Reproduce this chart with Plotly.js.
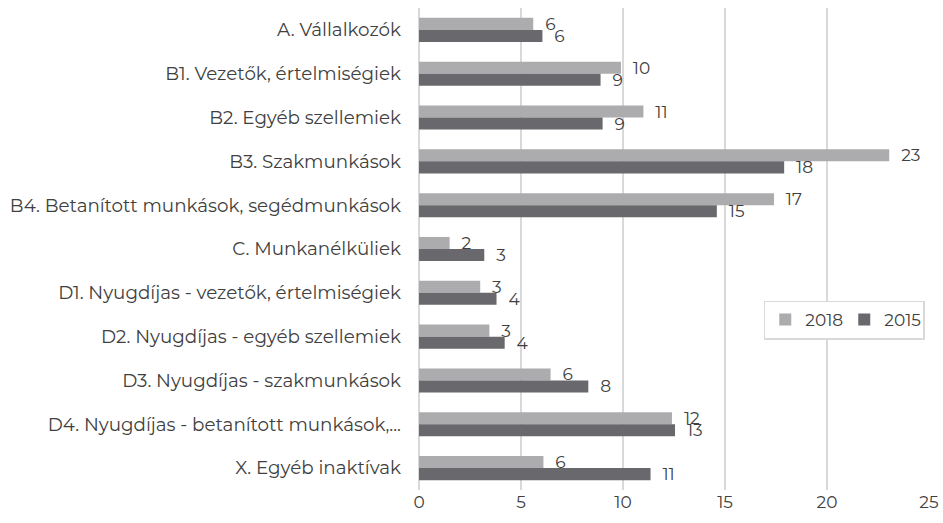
<!DOCTYPE html>
<html>
<head>
<meta charset="utf-8">
<script src="https://cdn.plot.ly/plotly-3.0.1.min.js"></script>
<style>html,body{margin:0;padding:0;background:#fff;}#chart{width:943px;height:523px;}</style>
</head>
<body>
<div id="chart"></div>
<script>
const categories = [
  "A. Vállalkozók",
  "B1. Vezetők, értelmiségiek",
  "B2. Egyéb szellemiek",
  "B3. Szakmunkások",
  "B4. Betanított munkások, segédmunkások",
  "C. Munkanélküliek",
  "D1. Nyugdíjas - vezetők, értelmiségiek",
  "D2. Nyugdíjas - egyéb szellemiek",
  "D3. Nyugdíjas - szakmunkások",
  "D4. Nyugdíjas - betanított munkások,...",
  "X. Egyéb inaktívak"
];
const values2018 = [5.6, 9.9, 11.0, 23.05, 17.4, 1.5, 3.0, 3.45, 6.45, 12.4, 6.1];
const values2015 = [6.05, 8.9, 9.0, 17.9, 14.6, 3.2, 3.8, 4.2, 8.3, 12.55, 11.35];
const xTicks = [0, 5, 10, 15, 20, 25];

const fontFam = "Montserrat, 'DejaVu Sans', sans-serif";
const txtColor = "#404040";
const labelTpl = "\u00a0\u00a0%{x:.0f}";

const traces = [
  {type: "bar", orientation: "h", name: "2018", y: categories, x: values2018,
   marker: {color: "#acacaf"}, texttemplate: labelTpl, textposition: "outside",
   constraintext: "none", cliponaxis: false,
   textfont: {family: fontFam, size: 17, color: txtColor}, hoverinfo: "x+y"},
  {type: "bar", orientation: "h", name: "2015", y: categories, x: values2015,
   marker: {color: "#69696d"}, texttemplate: labelTpl, textposition: "outside",
   constraintext: "none", cliponaxis: false,
   textfont: {family: fontFam, size: 17, color: txtColor}, hoverinfo: "x+y"}
];

const layout = {
  width: 943, height: 523,
  margin: {l: 419, r: 14, t: 8, b: 33},
  paper_bgcolor: "#fff", plot_bgcolor: "#fff",
  barmode: "group", bargap: 0.45, bargroupgap: 0,
  font: {family: fontFam, size: 17, color: txtColor},
  xaxis: {range: [0, 25], tickvals: xTicks, showgrid: true, gridcolor: "#d9d9d9", gridwidth: 1.5,
          zeroline: true, zerolinecolor: "#d9d9d9", zerolinewidth: 1.5, showline: false,
          ticks: "", tickfont: {size: 17, color: txtColor}, fixedrange: true},
  yaxis: {autorange: "reversed", type: "category", showgrid: false, zeroline: false, showline: false,
          ticks: "", ticklabelstandoff: 17, tickfont: {size: 18.3, color: txtColor}, fixedrange: true},
  legend: {orientation: "h", x: 0.676, y: 0.393, xanchor: "left", yanchor: "top",
           bordercolor: "#d9d9d9", borderwidth: 1.5, bgcolor: "#fff",
           itemwidth: 30, entrywidth: 34,
           font: {size: 17, color: txtColor}, traceorder: "normal"},
  showlegend: true
};

Plotly.newPlot("chart", traces, layout, {displayModeBar: false, staticPlot: true});
</script>
</body>
</html>
